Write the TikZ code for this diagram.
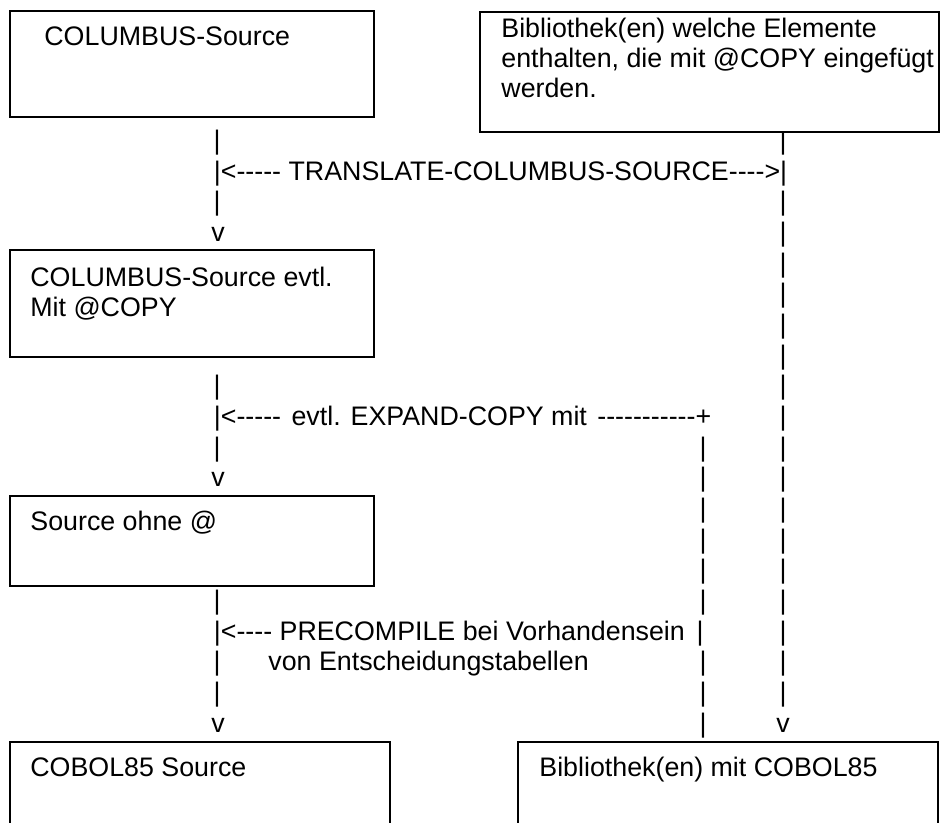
\documentclass[tikz,border=0pt]{standalone}
\usepackage{fontspec}
\setmainfont{Liberation Sans}[Ligatures=TeXOff]
\begin{document}
\begin{tikzpicture}[x=0.5pt,y=-0.5pt,
  box/.style={draw, line width=0.6pt, fill=white, anchor=north west, inner sep=0pt, outer sep=0pt},
  txt/.style={anchor=base west, inner sep=0pt, font=\fontsize{13.4pt}{15pt}\selectfont},
  glyph/.style={anchor=base, inner sep=0pt, font=\fontsize{13.4pt}{15pt}\selectfont}]
\useasboundingbox (0,0) rectangle (941,823);
\clip (0,0) rectangle (941,823);
% right column bars
\foreach \i in {1,3,4,...,19} {
  \node[glyph] (r\i) at (783,{149.5+(\i-1)*30.66}) {|};
}
\node[glyph] (r20) at (783,732) {v};
% middle column bars
\foreach \i in {11,...,16,18,19,20} {
  \node[glyph] (m\i) at (703,{149.5+(\i-1)*30.66}) {|};
}
\node[glyph] (m17) at (700,640.1) {|};
% boxes
\node[box, minimum width=182pt, minimum height=53pt] (b1) at (10,11) {};
\node[box, minimum width=229.5pt, minimum height=60pt] (b2) at (480,12) {};
\node[box, minimum width=182pt, minimum height=53.5pt] (b3) at (10,250) {};
\node[box, minimum width=182pt, minimum height=45pt] (b4) at (10,496) {};
\node[box, minimum width=190pt, minimum height=60pt] (b5) at (10,742) {};
\node[box, minimum width=210pt, minimum height=60pt] (b6) at (518,742) {};
% box texts
\node[txt] (t1) at (44,46) {COLUMBUS-Source};
\node[txt] (t2a) at (501,38) {Bibliothek(en) welche Elemente};
\node[txt] (t2b) at (501,68) {enthalten, die mit @COPY eingefügt};
\node[txt] (t2c) at (501,98) {werden.};
\node[txt] (t3a) at (30,287) {COLUMBUS-Source evtl.};
\node[txt] (t3b) at (30,317) {Mit @COPY};
\node[txt] (t4) at (30,530) {Source ohne @};
\node[txt] (t5) at (30,776) {COBOL85 Source};
\node[txt] (t6) at (539,776) {Bibliothek(en) mit COBOL85};
% left column
\node[glyph] (l1) at (217,149.5) {|};
\node[txt] (l2) at (213.5,180.2) {|<----- TRANSLATE-COLUMBUS-SOURCE---->|};
\node[glyph] (l3) at (217,210.8) {|};
\node[glyph] (l4) at (218,241.5) {v};
\node[glyph] (l9) at (217,394.8) {|};
\node[txt] (l10) at (213.5,425.4) {|<----- \hspace{1.5pt}evtl. EXPAND-COPY mit \hspace{1.5pt}-----------+};
\node[glyph] (l11) at (217,456.1) {|};
\node[glyph] (l12) at (218,486.8) {v};
\node[glyph] (l16) at (217,609.4) {|};
\node[txt] (l17) at (213.5,640.1) {|<---- PRECOMPILE bei Vorhandensein};
\node[glyph] (l18) at (217,670.7) {|};
\node[txt] (l18b) at (268,670.7) {von Entscheidungstabellen};
\node[glyph] (l19) at (217,701.4) {|};
\node[glyph] (l20) at (218,732) {v};
\end{tikzpicture}
\end{document}
